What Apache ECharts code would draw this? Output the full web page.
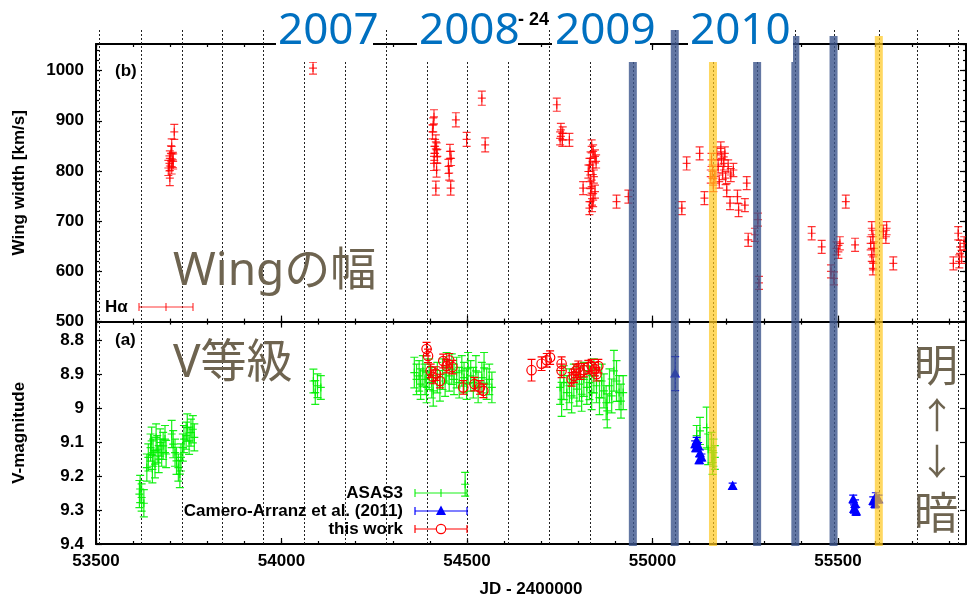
<!DOCTYPE html>
<html><head><meta charset="utf-8">
<script src="https://cdn.jsdelivr.net/npm/echarts@6/dist/echarts.min.js"></script>
<style>html,body{margin:0;padding:0;background:#fff}#c{width:967px;height:599px}</style>
</head><body><div id="c"></div>
<script>
// ---------------- DATA ----------------
// H-alpha wing width: [JD-2400000, width km/s, error]
const haWing = [
 [53711,878,15],[53704,849,15],[53702,835,15],[53699,825,15],[53707,822,15],[53698,815,15],[53704,809,15],[53695,806,15],[53699,786,15],[53708,819,15],
 [54085,1005,12],
 [54411,908,14],[54409,892,14],[54407,878,14],[54416,858,14],[54414,849,14],[54418,842,14],[54412,835,14],[54420,829,14],[54411,815,14],[54418,802,14],[54416,766,14],
 [54454,839,14],[54457,825,14],[54450,809,14],[54452,796,14],[54456,766,14],[54470,902,14],[54499,863,14],[54549,852,14],[54540,945,14],
 [54742,932,13],[54753,882,13],[54758,875,13],[54751,865,13],[54757,862,13],[54776,862,13],
 [54836,849,13],[54840,839,13],[54845,829,13],[54833,825,13],[54848,819,13],[54830,812,13],[54839,806,13],[54827,799,13],[54842,789,13],[54832,779,13],[54813,766,13],[54836,769,13],[54845,759,13],[54833,752,13],[54840,742,13],[54837,732,13],[54830,726,13],
 [54903,739,13],[54935,749,13],
 [55079,726,13],[55092,815,13],[55127,835,13],[55140,746,13],
 [55157,789,13],[55164,772,13],[55159,822,13],[55162,799,13],[55168,789,13],[55173,835,13],[55177,809,13],[55180,779,13],[55184,845,13],[55186,825,13],[55189,796,13],[55192,815,13],[55195,835,13],[55197,786,13],[55204,809,13],[55200,762,13],[55211,792,13],[55218,802,13],[55209,736,13],[55229,749,13],[55232,722,13],[55249,732,13],[55254,776,13],[55258,663,13],[55276,673,13],[55284,703,13],[55287,577,13],
 [55429,676,13],[55456,649,13],[55481,600,13],[55489,586,13],[55496,646,13],[55505,656,13],[55501,639,13],[55521,739,13],[55546,653,13],
 [55591,686,13],[55594,669,13],[55588,656,13],[55597,646,13],[55591,633,13],[55595,616,13],[55594,606,13],[55622,679,13],[55631,686,13],[55629,669,13],[55649,616,13],
 [55811,616,13],[55824,676,13],[55829,649,13],[55833,629,13],[55827,620,13],[55840,656,13]
];
// ASAS3 V magnitude: [JD, V, error]
const asas3 = [
 [53619,9.238,0.04],[53623,9.263,0.04],[53629,9.280,0.04],[53617,9.253,0.04],[53637,9.175,0.04],[53641,9.145,0.04],[53647,9.116,0.04],[53650,9.096,0.04],[53652,9.180,0.04],[53654,9.131,0.04],[53659,9.165,0.04],[53662,9.086,0.04],[53665,9.121,0.04],[53669,9.150,0.04],[53673,9.101,0.04],[53677,9.131,0.04],[53681,9.111,0.04],[53686,9.091,0.04],[53689,9.135,0.04],
 [53704,9.076,0.04],[53708,9.106,0.04],[53713,9.131,0.04],[53717,9.155,0.04],[53722,9.175,0.04],[53726,9.194,0.04],[53729,9.145,0.04],[53734,9.116,0.04],[53737,9.091,0.04],[53743,9.081,0.04],[53746,9.057,0.04],[53751,9.096,0.04],[53756,9.072,0.04],[53761,9.062,0.04],[53765,9.086,0.04],
 [54086,8.920,0.035],[54097,8.934,0.035],[54091,8.954,0.035],[54106,8.939,0.035],
 [54358,8.895,0.045],[54364,8.915,0.045],[54371,8.905,0.045],[54375,8.929,0.045],[54381,8.890,0.045],[54387,8.915,0.045],[54391,8.939,0.045],[54398,8.900,0.045],[54405,8.925,0.045],[54409,8.949,0.045],[54420,8.910,0.045],[54427,8.934,0.045],[54434,8.900,0.045],[54441,8.920,0.045],[54445,8.881,0.045],[54452,8.905,0.045],[54459,8.885,0.045],[54465,8.915,0.045],[54472,8.895,0.045],[54479,8.925,0.045],[54486,8.890,0.045],[54492,8.910,0.045],[54499,8.929,0.045],[54503,8.881,0.045],[54510,8.905,0.045],[54517,8.925,0.045],[54524,8.890,0.045],[54530,8.939,0.045],[54540,8.910,0.045],[54546,8.881,0.045],[54553,8.929,0.045],[54560,8.915,0.045],[54567,8.939,0.045],
 [54495,9.224,0.035],
 [54751,8.939,0.05],[54755,8.974,0.05],[54761,8.925,0.05],[54769,8.954,0.05],[54776,8.934,0.05],[54782,8.964,0.05],[54788,8.920,0.05],[54796,8.944,0.05],[54803,8.929,0.05],[54809,8.959,0.05],[54815,8.915,0.05],[54823,8.939,0.05],[54830,8.925,0.05],[54836,8.954,0.05],[54842,8.905,0.05],[54849,8.934,0.05],[54857,8.969,0.05],[54863,8.920,0.05],[54869,8.949,0.05],[54875,8.984,0.05],[54878,9.008,0.05],[54884,8.934,0.05],[54890,8.964,0.05],[54896,8.890,0.06],[54903,8.920,0.06],[54910,8.954,0.05],[54915,8.979,0.05],[54921,8.954,0.05],
 [55119,9.081,0.03],[55128,9.067,0.04],[55146,9.057,0.06],[55150,9.121,0.045],[55159,9.116,0.045],[55164,9.131,0.04],[55168,9.145,0.035],[55162,9.160,0.035]
];
// Camero-Arranz et al. (2011): [JD, V, error]
const cameroArranz = [
 [55061,8.898,0.05],
 [55115,9.106,0.01],[55119,9.096,0.01],[55117,9.118,0.01],[55123,9.111,0.01],[55128,9.133,0.01],[55132,9.145,0.01],[55126,9.153,0.01],
 [55216,9.229,0.008],
 [55541,9.268,0.012],[55546,9.282,0.012],[55543,9.297,0.012],[55549,9.304,0.012],
 [55595,9.273,0.012],[55602,9.261,0.012],[55600,9.282,0.012],[55609,9.268,0.012]
];
// this work: [JD, V, error]
const thisWork = [
 [54391,8.826,0.02],[54395,8.846,0.02],[54402,8.890,0.02],[54409,8.908,0.02],[54416,8.898,0.02],[54427,8.920,0.02],[54436,8.861,0.02],[54445,8.876,0.02],[54452,8.859,0.02],[54461,8.879,0.02],[54490,8.939,0.02],[54520,8.929,0.02],[54535,8.939,0.02],[54544,8.949,0.02],
 [54674,8.888,0.032],[54701,8.869,0.02],[54715,8.859,0.02],[54724,8.851,0.02],[54755,8.869,0.02],[54755,8.890,0.02],[54782,8.915,0.02],[54788,8.905,0.02],[54794,8.890,0.02],[54800,8.881,0.02],[54806,8.895,0.02],[54815,8.888,0.02],[54827,8.879,0.02],[54836,8.876,0.02],[54845,8.885,0.02],[54849,8.900,0.02],[54854,8.876,0.02]
];
// periastron passages (dotted lines) and outbursts (bands), JD-2400000
const periastronJD = [53509,53620,53731,53840,53951,54061,54171,54282,54391,54501,54611,54722,54832,54947,55060,55163,55282,55385,55488,55610,55712,55824];
const normalOutburstJD = [54947,55060,55282,55385,55488];
const giantOutburstJD = [55163,55610];
const yearLabels = ['2007','2008','2009','2010'];
const xTickStep = 500, xMinorStep = 100;

// ---------------- STYLE / LAYOUT ----------------
const JD_MIN = 53500, JD_MAX = 55845;
const FONT = '"Liberation Sans", Arial, sans-serif';
const BFONT = 'bold 17px ' + FONT;
const RED = 'rgba(255,0,0,0.78)';
const GREEN = 'rgba(0,240,0,0.9)';
const BLUE = '#0000ff';
const CAP = 4;

function xAxis(grid, pos, step, tickLen, inside, line, label, extra) {
  return Object.assign({
    type: 'value', gridIndex: grid, position: pos, min: JD_MIN, max: JD_MAX, interval: step,
    axisLine: {show: line, onZero: false, lineStyle: {color: '#000', width: 2}},
    axisTick: {show: tickLen > 0, inside: inside, length: tickLen, lineStyle: {color: '#000', width: 1.2}},
    axisLabel: {show: label, margin: 9, color: '#000', fontFamily: FONT, fontWeight: 'bold', fontSize: 17,
      showMaxLabel: false, formatter: v => String(Math.round(v))},
    splitLine: {show: false}, minorTick: {show: false}, minorSplitLine: {show: false}
  }, extra || {});
}
function yAxisTop(pos, step, tickLen, line, label, extra) {
  return Object.assign({
    type: 'value', gridIndex: 0, position: pos, min: 500, max: 1053, interval: step,
    axisLine: {show: line, onZero: false, lineStyle: {color: '#000', width: 2}},
    axisTick: {show: true, inside: true, length: tickLen, lineStyle: {color: '#000', width: 1.2}},
    axisLabel: {show: label, margin: 12, color: '#000', fontFamily: FONT, fontWeight: 'bold', fontSize: 17,
      showMaxLabel: false, formatter: v => String(Math.round(v))},
    splitLine: {show: false}, minorTick: {show: false}
  }, extra || {});
}
function yAxisBot(pos, label, extra) {
  return Object.assign({
    type: 'value', gridIndex: 1, position: pos, min: 8.745, max: 9.4, inverse: true, splitNumber: 5,
    axisLine: {show: true, onZero: false, lineStyle: {color: '#000', width: 2}},
    axisTick: {show: true, inside: true, length: 6, lineStyle: {color: '#000', width: 1.2}},
    axisLabel: {show: label, margin: 12, color: '#000', fontFamily: FONT, fontWeight: 'bold', fontSize: 17,
      showMinLabel: false, formatter: v => String(+(+v).toFixed(1))},
    splitLine: {show: false}, minorTick: {show: false}
  }, extra || {});
}

function errRender(marker, color) {
  return function (params, api) {
    const x = api.value(0), y = api.value(1), e = api.value(2);
    const c = api.coord([x, y]);
    const t = api.coord([x, y + e]);
    const b = api.coord([x, y - e]);
    const st = {stroke: color, lineWidth: 1.2, fill: null};
    const ch = [
      {type: 'line', shape: {x1: c[0], y1: t[1], x2: c[0], y2: b[1]}, style: st},
      {type: 'line', shape: {x1: c[0] - CAP, y1: t[1], x2: c[0] + CAP, y2: t[1]}, style: st},
      {type: 'line', shape: {x1: c[0] - CAP, y1: b[1], x2: c[0] + CAP, y2: b[1]}, style: st}
    ];
    if (marker === 'plus') {
      ch.push({type: 'line', shape: {x1: c[0] - CAP, y1: c[1], x2: c[0] + CAP, y2: c[1]}, style: st});
      ch.push({type: 'line', shape: {x1: c[0], y1: c[1] - CAP, x2: c[0], y2: c[1] + CAP}, style: st});
    } else if (marker === 'tri') {
      ch.push({type: 'polygon', shape: {points: [[c[0], c[1] - 5.5], [c[0] - 5, c[1] + 4], [c[0] + 5, c[1] + 4]]}, style: {fill: color}});
    } else if (marker === 'circle') {
      ch.push({type: 'circle', shape: {cx: c[0], cy: c[1], r: 4.7}, style: {stroke: color, fill: 'transparent', lineWidth: 1.2}});
    }
    return {type: 'group', children: ch};
  };
}

function lineRender(params, api) {
  const p = api.coord([api.value(0), 0]);
  const cs = params.coordSys;
  const x = Math.round(p[0]) + 0.5;
  return {type: 'line', shape: {x1: x, y1: cs.y, x2: x, y2: cs.y + cs.height},
    style: {stroke: '#222', lineWidth: 1, lineDash: [2, 2]}};
}
function bandRender(color, topOffsets) {
  return function (params, api) {
    const p = api.coord([api.value(0), 0]);
    const cs = params.coordSys;
    const top = cs.y + (topOffsets[params.dataIndex] || 0);
    return {type: 'rect', shape: {x: p[0] - 4, y: top, width: 8, height: cs.y + cs.height + 2 - top},
      style: {fill: color}};
  };
}

// ---------------- GRAPHIC (annotations, legend) ----------------
const G = [];
function txt(x, y, s, font, fill, align, z) {
  G.push({type: 'text', x: x, y: y, z: z || 101, silent: true,
    style: {text: s, font: font, fill: fill, align: align, verticalAlign: 'middle', textAlign: align, textVerticalAlign: 'middle'}});
}
function ln(x1, y1, x2, y2, color) {
  G.push({type: 'line', z: 101, silent: true, shape: {x1, y1, x2, y2}, style: {stroke: color, lineWidth: 1.2}});
}
function sample(x1, x2, y, color, marker) {
  ln(x1, y, x2, y, color); ln(x1, y - CAP, x1, y + CAP, color); ln(x2, y - CAP, x2, y + CAP, color);
  const cx = (x1 + x2) / 2;
  if (marker === 'plus') ln(cx, y - CAP, cx, y + CAP, color);
  if (marker === 'tri') G.push({type: 'polygon', z: 101, silent: true, shape: {points: [[cx, y - 5.5], [cx - 5, y + 4], [cx + 5, y + 4]]}, style: {fill: color}});
  if (marker === 'circle') G.push({type: 'circle', z: 101, silent: true, shape: {cx: cx, cy: y, r: 4.7}, style: {stroke: color, fill: '#fff', lineWidth: 1.2}});
}
// white text boxes behind the year labels
const yearBoxes = [[276, 373], [417, 518], [552, 650], [688, 793]];
const yearX = [278, 419, 555, 690];
yearBoxes.forEach(b => G.push({type: 'rect', z: 100, silent: true, shape: {x: b[0], y: 0, width: b[1] - b[0], height: 62}, style: {fill: '#fff'}}));
yearLabels.forEach((s, i) => txt(yearX[i], 31, s, '44px "Noto Sans", sans-serif', '#0070c0', 'left', 102));
txt(518, 20, '- 24', 'bold 18px ' + FONT, '#000', 'left');
txt(115, 71, '(b)', BFONT, '#000', 'left');
txt(115, 340, '(a)', BFONT, '#000', 'left');
const GRAY = '#6e6450';
const BIG = '46px "Noto Sans", "Noto Sans CJK JP", sans-serif';
txt(173, 272, 'Wingの幅', BIG, GRAY, 'left');
txt(173, 364, 'V等級', BIG, GRAY, 'left');
txt(936, 365, '明', '44px "Noto Sans CJK JP", sans-serif', GRAY, 'center');
txt(937, 415, '↑', '36px "Noto Sans CJK JP", sans-serif', GRAY, 'center');
txt(937, 461, '↓', '36px "Noto Sans CJK JP", sans-serif', GRAY, 'center');
txt(936, 512, '暗', '44px "Noto Sans CJK JP", sans-serif', GRAY, 'center');
// legends
txt(105, 307, 'Hα', BFONT, '#000', 'left');
sample(139, 193, 307, RED, 'plus');
txt(403, 493, 'ASAS3', BFONT, '#000', 'right');
sample(415, 467, 493, GREEN, 'plus');
txt(403, 511, 'Camero-Arranz et al. (2011)', BFONT, '#000', 'right');
sample(415, 467, 511, BLUE, 'tri');
txt(403, 529, 'this work', BFONT, '#000', 'right');
sample(415, 467, 529, '#ff0000', 'circle');

// ---------------- CHART ----------------
const chart = echarts.init(document.getElementById('c'), null, {renderer: 'canvas'});
chart.setOption({
  animation: false,
  backgroundColor: '#fff',
  grid: [
    {left: 96, top: 44, width: 870, height: 277.6, containLabel: false, outerBoundsMode: 'none'},
    {left: 96, top: 321.6, width: 870, height: 222.4, containLabel: false, outerBoundsMode: 'none'},
    {left: 96, top: 30, width: 870, height: 514, containLabel: false, outerBoundsMode: 'none'}
  ],
  xAxis: [
    xAxis(0, 'bottom', xTickStep, 6, true, true, false),
    xAxis(0, 'bottom', xMinorStep, 3, true, false, false),
    xAxis(0, 'bottom', xTickStep, 6, false, false, false),
    xAxis(0, 'bottom', xMinorStep, 3, false, false, false),
    xAxis(0, 'top', xTickStep, 6, true, true, false),
    xAxis(0, 'top', xMinorStep, 3, true, false, false),
    xAxis(1, 'bottom', xTickStep, 6, true, true, true, {
      name: 'JD - 2400000', nameLocation: 'middle', nameGap: 37, nameMoveOverlap: false,
      nameTextStyle: {color: '#000', fontFamily: FONT, fontWeight: 'bold', fontSize: 17}}),
    xAxis(1, 'bottom', xMinorStep, 3, true, false, false),
    xAxis(2, 'bottom', xTickStep, 0, true, false, false, {show: false})
  ],
  yAxis: [
    yAxisTop('left', 100, 6, true, true, {
      name: 'Wing width [km/s]', nameLocation: 'middle', nameGap: 68, nameRotate: 90, nameMoveOverlap: false,
      nameTextStyle: {color: '#000', fontFamily: FONT, fontWeight: 'bold', fontSize: 17}}),
    yAxisTop('left', 20, 3, false, false),
    yAxisTop('right', 100, 6, true, false),
    yAxisTop('right', 20, 3, false, false),
    yAxisBot('left', true, {
      name: 'V-magnitude', nameLocation: 'middle', nameGap: 68, nameRotate: 90, nameMoveOverlap: false,
      nameTextStyle: {color: '#000', fontFamily: FONT, fontWeight: 'bold', fontSize: 17}}),
    yAxisBot('right', false),
    {type: 'value', gridIndex: 2, min: 0, max: 1, show: false}
  ],
  series: [
    {type: 'custom', name: 'periastron', xAxisIndex: 8, yAxisIndex: 6, z: 1, silent: true,
      data: periastronJD.map(v => [v, 0]), renderItem: lineRender},
    {type: 'custom', name: 'Hα', xAxisIndex: 0, yAxisIndex: 0, z: 2, clip: true, silent: true,
      data: haWing, renderItem: errRender('plus', RED)},
    {type: 'custom', name: 'ASAS3', xAxisIndex: 6, yAxisIndex: 4, z: 2, clip: true, silent: true,
      data: asas3, renderItem: errRender('plus', GREEN)},
    {type: 'custom', name: 'this work', xAxisIndex: 6, yAxisIndex: 4, z: 2, clip: true, silent: true,
      data: thisWork, renderItem: errRender('circle', '#ff0000')},
    {type: 'custom', name: 'Camero-Arranz et al. (2011)', xAxisIndex: 6, yAxisIndex: 4, z: 2, clip: true, silent: true,
      data: cameroArranz, renderItem: errRender('tri', BLUE)},
    {type: 'custom', name: 'normal outbursts', xAxisIndex: 8, yAxisIndex: 6, z: 3, silent: true,
      data: normalOutburstJD.map(v => [v, 0]), renderItem: bandRender('rgba(60,85,140,0.8)', [0, 0, 0, 6, 6])},
    {type: 'custom', name: 'giant outbursts', xAxisIndex: 8, yAxisIndex: 6, z: 3, silent: true,
      data: giantOutburstJD.map(v => [v, 0]), renderItem: bandRender('rgba(255,200,30,0.7)', [0, 6])}
  ],
  graphic: {elements: G}
});
</script></body></html>
